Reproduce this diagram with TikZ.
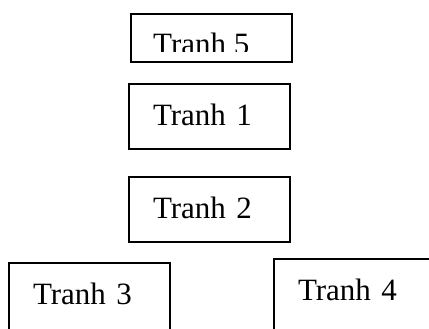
\documentclass[tikz,border=0pt]{standalone}
\usepackage{fontspec}
\setmainfont{Liberation Serif}
\usetikzlibrary{positioning}

\begin{document}
\begin{tikzpicture}[x=1pt,y=-1pt,
  tranh/.style={draw,line width=1.6pt,minimum width=161pt,minimum height=65pt,
    text width=113pt,align=left,inner xsep=24pt,text depth=4pt,
    font=\fontsize{31}{37}\selectfont}]
  \clip (0,0) rectangle (429,329);
  % top box, its text cut off below
  \node[draw,line width=1.6pt,minimum width=161pt,minimum height=48pt] (t5box) at (211.5,38) {};
  \begin{scope}
    \clip (131,14) rectangle (292,52);
    \node[anchor=base west,inner sep=0pt,font=\fontsize{31}{37}\selectfont] (t5) at (153,55) {Tranh 5};
  \end{scope}
  \node[tranh] (t1) at (209.5,116.5) {Tranh 1};
  \node[tranh] (t2) at (209.5,209.5) {Tranh 2};
  % bottom row runs past the lower edge
  \node[tranh,minimum height=77pt,text depth=16pt] (t3) at (89.5,301.5) {Tranh 3};
  \node[tranh,minimum height=77pt,text depth=16pt] (t4) at (354.5,297.5) {Tranh 4};
\end{tikzpicture}
\end{document}
